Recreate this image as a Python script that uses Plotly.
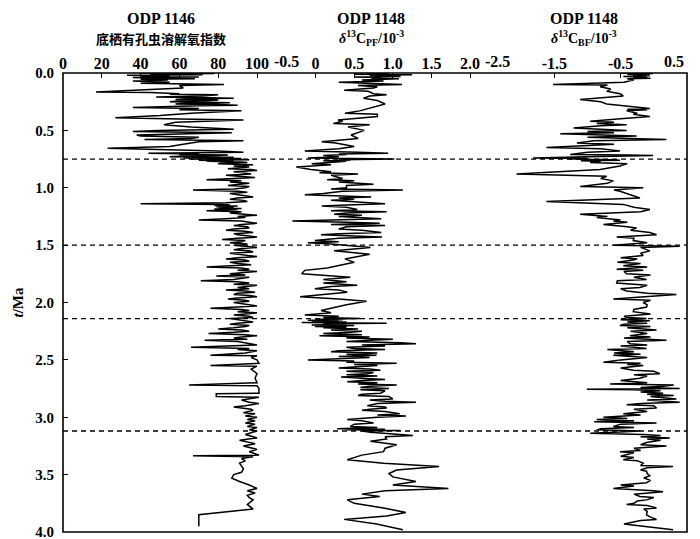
import plotly.graph_objects as go

# ---------------- data ----------------
# ODP 1146 benthic foraminifera dissolution index: (age Ma, index)
odp1146 = [
    (0.00, 40), (0.005, 78), (0.01, 45), (0.015, 72), (0.02, 33), (0.025, 55), (0.03, 40),
    (0.035, 70), (0.04, 36), (0.045, 60), (0.05, 68), (0.055, 40), (0.06, 54), (0.065, 45),
    (0.07, 36), (0.08, 55), (0.09, 40), (0.10, 83), (0.11, 60), (0.13, 62), (0.165, 17),
    (0.17, 45), (0.18, 60), (0.185, 55), (0.19, 80), (0.20, 72), (0.205, 58), (0.21, 48),
    (0.215, 75), (0.22, 88), (0.225, 65), (0.23, 58), (0.235, 80), (0.24, 75), (0.245, 60),
    (0.25, 55), (0.255, 75), (0.26, 86), (0.265, 62), (0.27, 58), (0.275, 80), (0.28, 90),
    (0.285, 70), (0.29, 62), (0.30, 36), (0.31, 70), (0.32, 60), (0.33, 92), (0.35, 66),
    (0.37, 50), (0.39, 27), (0.40, 60), (0.41, 93), (0.43, 58), (0.45, 52), (0.47, 66),
    (0.49, 88), (0.50, 49), (0.51, 36), (0.52, 87), (0.53, 55), (0.54, 38), (0.55, 40),
    (0.56, 70), (0.57, 66), (0.58, 42), (0.59, 93), (0.60, 70), (0.62, 62), (0.64, 55),
    (0.655, 23), (0.67, 68), (0.68, 80), (0.69, 93), (0.70, 44), (0.705, 70), (0.71, 60),
    (0.715, 85), (0.72, 80), (0.725, 60), (0.73, 55), (0.735, 88), (0.74, 62), (0.745, 92),
    (0.75, 66), (0.755, 96), (0.76, 70), (0.765, 88), (0.77, 74), (0.775, 92), (0.78, 95),
    (0.785, 82), (0.79, 80),
    (0.80, 98), (0.81, 88), (0.82, 96), (0.83, 90), (0.835, 85), (0.84, 97), (0.85, 100),
    (0.86, 88), (0.87, 94), (0.88, 97), (0.89, 84), (0.90, 92), (0.91, 99), (0.92, 88),
    (0.93, 74), (0.94, 92), (0.95, 86), (0.96, 96), (0.97, 90), (0.98, 85), (0.99, 96),
    (1.00, 94), (1.01, 88), (1.02, 67), (1.03, 90), (1.04, 95), (1.05, 86), (1.06, 90),
    (1.07, 96), (1.08, 98), (1.09, 90), (1.10, 86), (1.11, 93), (1.12, 95), (1.13, 84),
    (1.14, 40), (1.145, 82), (1.15, 86), (1.155, 78), (1.16, 90), (1.165, 79), (1.17, 88),
    (1.175, 80), (1.18, 92), (1.185, 78), (1.19, 90), (1.20, 74), (1.21, 92), (1.22, 86),
    (1.23, 94), (1.24, 100), (1.25, 90), (1.26, 94), (1.27, 84), (1.28, 70), (1.29, 92),
    (1.30, 97), (1.31, 100), (1.32, 92), (1.33, 88), (1.34, 95), (1.35, 96), (1.36, 88),
    (1.37, 84), (1.38, 94), (1.39, 98), (1.40, 88), (1.41, 90), (1.42, 96), (1.43, 100),
    (1.44, 90), (1.45, 82), (1.46, 94), (1.47, 92), (1.48, 86), (1.49, 95), (1.50, 88),
    (1.51, 96), (1.52, 100), (1.53, 92), (1.54, 88), (1.55, 96), (1.56, 98), (1.57, 86),
    (1.58, 90), (1.59, 96), (1.60, 100), (1.61, 90), (1.62, 84), (1.63, 94), (1.64, 96),
    (1.65, 86), (1.66, 90), (1.67, 97), (1.68, 88), (1.69, 74), (1.70, 92), (1.71, 96),
    (1.72, 90), (1.73, 100), (1.74, 92), (1.75, 86), (1.76, 94), (1.77, 79), (1.78, 96),
    (1.79, 92), (1.80, 88), (1.81, 71), (1.82, 90), (1.83, 96), (1.84, 88), (1.85, 100),
    (1.86, 94), (1.87, 90), (1.88, 96), (1.89, 84), (1.90, 94), (1.91, 99), (1.92, 90),
    (1.93, 88), (1.94, 96), (1.95, 100), (1.96, 90), (1.97, 85), (1.98, 94), (1.99, 96),
    (2.00, 88), (2.01, 92), (2.02, 98), (2.03, 100), (2.04, 90), (2.05, 76), (2.06, 92),
    (2.07, 96), (2.08, 90), (2.09, 100), (2.10, 94), (2.11, 88), (2.12, 96), (2.13, 98),
    (2.14, 86), (2.15, 90),
    (2.16, 96), (2.17, 98), (2.18, 90), (2.19, 86), (2.20, 96), (2.21, 94), (2.22, 88),
    (2.23, 80), (2.24, 92), (2.25, 96), (2.26, 88), (2.27, 75), (2.28, 94), (2.29, 100),
    (2.30, 92), (2.31, 88), (2.32, 95), (2.33, 73), (2.34, 90), (2.35, 94), (2.37, 100),
    (2.39, 66), (2.40, 96), (2.41, 90), (2.42, 100), (2.44, 94), (2.46, 76), (2.465, 100),
    (2.48, 97), (2.50, 100), (2.53, 101), (2.55, 76), (2.555, 100), (2.58, 97), (2.62, 100),
    (2.66, 99), (2.70, 100), (2.72, 65), (2.725, 100), (2.75, 101), (2.79, 101), (2.795, 79),
    (2.82, 79), (2.825, 101), (2.85, 92), (2.87, 96), (2.88, 101), (2.90, 94), (2.91, 88),
    (2.93, 97), (2.94, 98), (2.96, 93), (2.97, 99), (2.99, 94), (3.00, 100), (3.02, 95),
    (3.03, 99), (3.05, 94), (3.06, 99), (3.08, 95), (3.09, 100), (3.11, 96), (3.12, 100),
    (3.15, 94), (3.18, 100), (3.20, 91), (3.23, 99), (3.25, 93), (3.28, 100), (3.30, 96),
    (3.33, 101), (3.335, 67), (3.345, 98), (3.36, 92), (3.38, 94), (3.40, 91), (3.42, 92),
    (3.45, 93), (3.48, 92), (3.50, 88), (3.53, 87), (3.56, 91), (3.59, 96), (3.62, 100),
    (3.64, 95), (3.66, 99), (3.68, 95), (3.70, 96), (3.72, 98), (3.76, 95), (3.80, 98),
    (3.85, 70), (3.95, 70),
]

# ODP 1148 planktonic foraminifera d13C (per mil): (age Ma, value)
odp1148_pf = [
    (0.00, 0.66), (0.005, 0.95), (0.01, 0.50), (0.015, 1.25), (0.02, 0.70), (0.025, 0.90),
    (0.03, 1.10), (0.035, 0.50), (0.04, 0.85), (0.045, 0.72), (0.05, 1.08), (0.06, 0.60),
    (0.07, 0.88), (0.08, 0.30), (0.09, 0.70), (0.10, 1.12), (0.11, 0.55), (0.12, 0.80),
    (0.13, 0.75), (0.15, 0.37), (0.16, 0.68), (0.18, 0.75), (0.19, 0.92), (0.20, 0.70),
    (0.22, 0.62), (0.24, 0.80), (0.27, 0.90), (0.30, 0.75), (0.33, 0.57), (0.35, 0.38),
    (0.36, 0.80), (0.38, 0.80), (0.41, 0.29), (0.42, 0.35), (0.44, 0.23), (0.45, 0.70),
    (0.47, 0.42), (0.50, 0.63), (0.54, 0.46), (0.57, 0.55), (0.60, 0.08), (0.61, 0.26),
    (0.64, 0.50), (0.66, 0.30), (0.68, -0.14), (0.69, 0.55), (0.70, 0.94), (0.705, 0.30),
    (0.71, 0.40), (0.72, 0.10), (0.73, 0.30), (0.74, -0.10), (0.745, 0.60), (0.75, 1.02),
    (0.755, 0.30), (0.76, 0.45), (0.765, 0.10), (0.77, 0.40), (0.79, -0.05), (0.80, 0.20),
    (0.82, -0.25), (0.84, -0.06), (0.86, 0.20), (0.87, 0.05), (0.88, 0.55), (0.89, 0.20),
    (0.90, 0.24), (0.92, 0.35), (0.93, 0.15), (0.94, 0.50), (0.95, 0.30), (0.97, 0.75),
    (0.98, 0.40), (1.00, 0.40), (1.01, 0.20), (1.02, 1.13), (1.03, 0.35), (1.05, 0.10),
    (1.06, -0.14), (1.07, 0.40), (1.08, 0.72), (1.09, 0.30), (1.10, 0.50), (1.11, 0.20),
    (1.12, 0.40), (1.13, 0.70), (1.14, 0.90), (1.15, 0.40), (1.16, 0.08), (1.17, 0.40),
    (1.19, 0.54), (1.20, 0.20), (1.21, 0.92), (1.22, 0.40), (1.23, 0.24), (1.24, 0.60),
    (1.25, 0.30), (1.27, 0.85), (1.28, 0.30), (1.29, -0.30), (1.30, 0.40), (1.31, 0.83),
    (1.32, 0.20), (1.33, 0.90), (1.34, 0.40), (1.36, 0.30), (1.37, 0.60), (1.39, 0.85),
    (1.40, 0.30), (1.41, 0.07), (1.42, 0.50), (1.43, 0.86), (1.44, 0.30), (1.46, -0.01),
    (1.47, 0.30), (1.48, -0.10), (1.49, 0.20), (1.50, 0.37), (1.52, 0.71), (1.55, 0.24),
    (1.58, 0.70), (1.62, 0.38), (1.65, 0.50), (1.70, 0.15), (1.72, -0.14), (1.75, -0.18),
    (1.78, 0.45), (1.80, 0.10), (1.82, 0.40), (1.83, 0.10), (1.85, 0.54), (1.86, 0.20),
    (1.88, -0.01), (1.89, 0.30), (1.91, 0.41), (1.93, 0.10), (1.95, -0.20), (1.97, 0.30),
    (1.99, 0.66), (2.02, 0.40), (2.04, 0.28), (2.07, 0.07), (2.09, 0.20), (2.11, -0.14),
    (2.12, 0.30), (2.13, 0.10), (2.14, 0.58), (2.145, 0.00), (2.15, 0.35), (2.155, -0.10),
    (2.16, 0.30), (2.165, -0.05), (2.17, 0.40), (2.175, -0.18), (2.18, 0.92), (2.185, 0.10),
    (2.19, 0.40), (2.195, -0.05), (2.20, 0.50), (2.21, -0.01), (2.215, 0.40), (2.22, 0.10),
    (2.23, 0.55), (2.24, 0.20), (2.25, 0.60), (2.26, 0.45), (2.27, 0.10), (2.28, 0.60),
    (2.29, 0.05), (2.30, 0.70), (2.31, 0.40), (2.32, 1.00), (2.33, 0.71), (2.34, 0.40),
    (2.35, 1.10), (2.36, 1.30), (2.37, 0.60), (2.38, 0.90), (2.39, 0.40), (2.40, 0.50),
    (2.41, 0.90), (2.42, 0.30), (2.43, 0.20), (2.44, 0.80), (2.45, 0.40), (2.46, 0.79),
    (2.47, 0.30), (2.48, 0.70), (2.50, -0.10), (2.51, 0.50), (2.52, 0.40), (2.53, 1.05),
    (2.54, 0.50), (2.55, 0.80), (2.56, 0.54), (2.57, 0.30), (2.58, 0.70), (2.59, 0.84),
    (2.60, 0.40), (2.61, 0.75), (2.62, 0.67), (2.63, 0.40), (2.64, 0.80), (2.65, 0.33),
    (2.66, 0.60), (2.67, 0.90), (2.68, 0.60), (2.69, 0.41), (2.70, 0.80), (2.71, 0.55),
    (2.72, 1.05), (2.73, 0.70), (2.74, 0.58), (2.75, 0.95), (2.76, 0.58), (2.77, 0.90),
    (2.79, 0.84), (2.80, 0.60), (2.81, 0.55), (2.82, 0.95), (2.84, 1.00), (2.85, 0.70),
    (2.86, 0.90), (2.87, 1.30), (2.88, 0.80), (2.90, 0.67), (2.91, 0.90), (2.92, 0.92),
    (2.93, 0.70), (2.94, 0.60), (2.95, 0.90), (2.97, 1.09), (2.98, 0.80), (2.99, 1.17),
    (3.00, 0.80), (3.02, 0.41), (3.03, 0.60), (3.05, 0.75), (3.06, 0.50), (3.08, 0.45),
    (3.09, 0.80), (3.10, 0.28), (3.105, 0.90), (3.11, 0.40), (3.115, 1.10), (3.12, 0.60),
    (3.13, 0.71), (3.14, 0.90), (3.16, 1.26), (3.17, 0.90), (3.19, 0.92), (3.21, 0.71),
    (3.24, 1.05), (3.27, 0.90), (3.30, 0.88), (3.33, 0.60), (3.37, 0.41), (3.40, 0.88),
    (3.43, 1.60), (3.46, 1.05), (3.49, 0.95), (3.52, 1.00), (3.56, 1.30), (3.59, 1.00),
    (3.62, 1.72), (3.64, 0.90), (3.65, 0.79), (3.67, 0.60), (3.69, 0.83), (3.72, 0.41),
    (3.75, 0.50), (3.79, 0.88), (3.83, 1.17), (3.86, 0.92), (3.89, 0.37), (3.93, 0.79),
    (3.98, 1.13),
]

# ODP 1148 benthic foraminifera d13C (per mil): (age Ma, value)
odp1148_bf = [
    (0.000, -0.51), (0.005, -0.01), (0.01, -0.40), (0.015, -0.06), (0.02, -0.31), (0.025, -0.06),
    (0.03, -0.46), (0.035, -0.10), (0.04, -0.31), (0.045, -0.05), (0.05, -0.40), (0.06, -0.30),
    (0.08, -0.45), (0.10, -1.52), (0.105, -0.70), (0.12, -0.81), (0.14, -0.65), (0.16, -0.71),
    (0.18, -0.51), (0.20, -0.46), (0.23, -1.11), (0.25, -0.80), (0.27, -0.71), (0.29, -0.41),
    (0.31, -0.06), (0.315, -0.40), (0.32, -0.10), (0.33, -0.41), (0.35, -0.25), (0.36, -0.31),
    (0.38, -0.06), (0.40, -0.55), (0.42, -0.96), (0.43, -0.60), (0.44, -0.86), (0.45, -0.41),
    (0.46, -0.80), (0.48, -1.21), (0.49, -0.70), (0.50, -0.41), (0.51, -1.00), (0.52, -0.60),
    (0.53, -1.41), (0.54, -0.80), (0.55, -0.26), (0.56, -1.00), (0.57, -0.50), (0.58, 0.19),
    (0.59, -0.90), (0.61, -1.16), (0.62, -0.60), (0.63, -1.00), (0.65, -1.62), (0.66, -0.80),
    (0.68, -0.51), (0.69, -1.00), (0.71, -1.26), (0.715, -0.40), (0.72, -0.01), (0.73, -1.00),
    (0.74, -1.82), (0.745, -1.00), (0.75, -1.30), (0.755, -0.60), (0.76, -0.51), (0.765, -1.10),
    (0.77, -0.80), (0.78, -0.96), (0.79, -0.40), (0.81, -0.51), (0.84, -0.81), (0.88, -2.07),
    (0.90, -0.71), (0.92, -0.80), (0.94, -0.61), (0.96, -0.70), (0.99, -1.11), (1.00, -0.16),
    (1.02, -0.60), (1.03, -0.51), (1.06, -0.36), (1.09, -0.21), (1.12, -1.62), (1.145, -0.46),
    (1.17, -0.30), (1.19, -0.06), (1.21, -0.20), (1.23, -1.11), (1.25, -0.70), (1.26, -0.86),
    (1.28, -0.50), (1.29, -0.61), (1.30, -0.40), (1.32, -0.76), (1.34, -0.40), (1.35, -0.26),
    (1.37, -0.35), (1.39, -0.06), (1.41, 0.04), (1.43, -0.56), (1.44, -0.30), (1.46, -0.31),
    (1.48, -0.10), (1.50, -0.61), (1.51, 0.39), (1.52, -0.20), (1.55, -0.06), (1.57, -0.20),
    (1.59, -0.16), (1.61, -0.50), (1.62, -0.25), (1.63, -0.31), (1.65, -0.55), (1.66, -0.20),
    (1.68, -0.46), (1.69, -0.10), (1.71, -0.56), (1.72, -0.16), (1.73, -0.45), (1.75, -0.41),
    (1.76, -0.05), (1.78, -0.30), (1.80, -0.11), (1.81, -0.55), (1.83, -0.56), (1.85, -0.10),
    (1.87, -0.21), (1.88, -0.50), (1.90, -0.41), (1.92, -0.10), (1.93, 0.34), (1.95, -0.20),
    (1.97, -0.61), (1.98, -0.05), (2.00, -0.16), (2.02, -0.10), (2.04, -0.11), (2.06, -0.30),
    (2.08, -0.31), (2.10, -0.05), (2.12, -0.45), (2.13, -0.41), (2.14, -0.11), (2.15, -0.50),
    (2.16, -0.06), (2.17, -0.40), (2.18, -0.10), (2.19, -0.45), (2.20, -0.51), (2.21, -0.05),
    (2.22, -0.40), (2.24, 0.04), (2.25, -0.35), (2.27, -0.10), (2.29, -0.36), (2.30, -0.05),
    (2.31, -0.45), (2.33, 0.19), (2.34, -0.40), (2.36, -0.36), (2.37, -0.10), (2.38, -0.50),
    (2.40, -0.11), (2.41, -0.70), (2.43, -0.30), (2.44, -0.60), (2.45, -0.20), (2.46, -0.61),
    (2.47, -0.41), (2.48, -0.10), (2.50, -0.50), (2.52, -0.76), (2.53, -0.20), (2.54, -0.40),
    (2.55, -0.16), (2.57, -0.50), (2.59, -0.31), (2.60, 0.00), (2.62, 0.09), (2.63, -0.30),
    (2.64, -0.10), (2.66, -0.21), (2.68, -0.50), (2.70, -0.10), (2.71, -0.66), (2.72, 0.30),
    (2.73, 0.14), (2.74, -0.20), (2.75, 0.39), (2.755, -1.01), (2.76, -0.30), (2.77, 0.10),
    (2.78, -0.20), (2.79, 0.14), (2.80, -0.10), (2.81, 0.30), (2.82, -0.05), (2.84, 0.34),
    (2.85, -0.10), (2.87, 0.39), (2.88, -0.20), (2.89, -0.41), (2.90, 0.00), (2.92, 0.04),
    (2.93, -0.30), (2.95, -0.10), (2.97, -0.46), (2.98, -0.20), (3.00, -0.76), (3.01, -0.40),
    (3.02, -0.86), (3.03, -0.30), (3.04, -0.90), (3.05, 0.04), (3.06, -0.50), (3.08, -0.61),
    (3.09, -0.30), (3.10, -0.80), (3.11, -0.86), (3.12, -0.20), (3.13, -0.60), (3.14, -0.96),
    (3.15, -0.16), (3.16, 0.10), (3.17, -0.20), (3.18, 0.24), (3.19, -0.10), (3.20, 0.10),
    (3.22, -0.11), (3.24, -0.20), (3.25, 0.19), (3.27, -0.30), (3.29, -0.20), (3.30, -0.51),
    (3.31, -0.30), (3.33, -0.41), (3.34, -0.50), (3.35, -0.30), (3.37, -0.46), (3.38, -0.25),
    (3.40, -0.16), (3.42, -0.20), (3.43, 0.29), (3.44, -0.10), (3.46, -0.20), (3.47, -0.11),
    (3.49, -0.10), (3.51, -0.06), (3.53, -0.15), (3.55, -0.05), (3.57, -0.11), (3.59, -0.50),
    (3.60, -0.30), (3.62, -0.61), (3.63, -0.20), (3.64, 0.00), (3.65, 0.14), (3.66, -0.10),
    (3.67, -0.30), (3.69, -0.21), (3.70, 0.00), (3.72, -0.11), (3.73, -0.25), (3.75, -0.30),
    (3.76, -0.41), (3.77, -0.10), (3.79, 0.04), (3.80, -0.15), (3.82, -0.10), (3.85, -0.11),
    (3.87, -0.05), (3.89, 0.04), (3.90, -0.20), (3.92, -0.36), (3.93, -0.45), (3.95, -0.16),
    (3.97, 0.10), (3.98, 0.29),
]

# boundaries drawn as dashed lines (Ma)
boundary_ages = [0.75, 1.50, 2.14, 3.12]

# tick values / labels
ticks_1146 = [0, 20, 40, 60, 80, 100]
ticktext_1146 = ["0", "20", "40", "60", "80", "100"]
ticks_pf = [-0.5, 0, 0.5, 1.0, 1.5, 2.0]
ticktext_pf = ["", "0", "0.5", "1.0", "1.5", "2.0"]
ticks_bf = [-2.5, -1.5, -0.5, 0.5]
ticktext_bf = ["", "-1.5", "-0.5", ""]
# edge labels of the joined axes (axis, value, text, anchor)
edge_labels = [("x2", -0.5, "-0.5", "left"), ("x3", -2.5, "-2.5", "left"),
               ("x3", 0.5, "0.5", "right")]
age_ticks = [0, 0.5, 1.0, 1.5, 2.0, 2.5, 3.0, 3.5, 4.0]

# ---------------- figure ----------------
# the page body has an 8px margin, so the figure is laid out 8px up/left of the window
SERIF = "Liberation Serif"
CJK = "Noto Sans CJK SC"
line = dict(color="black", width=1.5)

fig = go.Figure()
for series, xa in [(odp1146, "x"), (odp1148_pf, "x2"), (odp1148_bf, "x3")]:
    fig.add_trace(go.Scatter(x=[p[1] for p in series], y=[p[0] for p in series],
                             mode="lines", line=line, xaxis=xa, yaxis="y",
                             showlegend=False, hoverinfo="skip"))

for a in boundary_ages:
    fig.add_shape(type="line", xref="paper", yref="y", x0=0, x1=1, y0=a, y1=a,
                  line=dict(color="black", width=1.3, dash="5px,4px"))

fig.add_shape(type="rect", xref="paper", yref="paper", x0=0, x1=1, y0=0, y1=1,
              line=dict(color="black", width=1.6))

tickfont = dict(family=SERIF, size=16, color="black", weight="bold")
ytickfont = dict(family=SERIF, size=15, color="black", weight="bold")
xcommon = dict(side="top", anchor="y", ticks="inside", ticklen=5, tickwidth=1.2,
               tickcolor="black", showgrid=False, zeroline=False, showline=False,
               tickfont=tickfont, tickmode="array", fixedrange=True, automargin=False)

d1 = 214 / 624
d2 = 425 / 624
fig.update_layout(
    width=700, height=539,
    margin=dict(l=55, r=21, t=65, b=15),
    paper_bgcolor="white", plot_bgcolor="white",
    xaxis=dict(domain=[0, d1], range=[0, 110.3], tickvals=ticks_1146,
               ticktext=ticktext_1146, **xcommon),
    xaxis2=dict(domain=[d1, d2], range=[-0.5, 2.233], tickvals=ticks_pf,
                ticktext=ticktext_pf, **xcommon),
    xaxis3=dict(domain=[d2, 1], range=[-2.5, 0.5], tickvals=ticks_bf,
                ticktext=ticktext_bf, **xcommon),
    yaxis=dict(range=[4, 0], anchor="x", ticks="inside", ticklen=5, tickwidth=1.2,
               tickcolor="black", tickvals=age_ticks, tickformat=".1f", showgrid=False,
               zeroline=False, showline=False, tickfont=ytickfont, ticklabelstandoff=8,
               ticklabeloverflow="allow", automargin=False, fixedrange=True),
)

for xa, val, txt, anc in edge_labels:
    fig.add_annotation(x=val, xref=xa, y=1, yref="paper", text=txt, showarrow=False,
                       xanchor=anc, yanchor="bottom", yshift=1,
                       xshift=-5 if anc == "left" else -1, font=tickfont)

fig.add_annotation(x=(17 - 63) / 624, y=0.5 - 0.0, xref="paper", yref="paper",
                   text="<i>t</i>/Ma", textangle=-90, showarrow=False,
                   xanchor="center", yanchor="middle",
                   font=dict(family=SERIF, size=15, color="black", weight="bold"))

titles = [
    (161, "ODP 1146", "底栖有孔虫溶解氧指数", CJK),
    (371, "ODP 1148", "<i>δ</i><sup>13</sup>C<sub>PF</sub>/10<sup>-3</sup>", SERIF),
    (584, "ODP 1148", "<i>δ</i><sup>13</sup>C<sub>BF</sub>/10<sup>-3</sup>", SERIF),
]
for xpx, t1, t2, f2 in titles:
    xp = (xpx - 63) / 624
    fig.add_annotation(x=xp, y=1, xref="paper", yref="paper", yshift=55, text=t1,
                       showarrow=False, xanchor="center", yanchor="middle",
                       font=dict(family=SERIF, size=16, color="black", weight="bold"))
    fig.add_annotation(x=xp, y=1, xref="paper", yref="paper", yshift=35, text=t2,
                       showarrow=False, xanchor="center", yanchor="middle",
                       font=dict(family=f2, size=14 if f2 == SERIF else 13, color="black",
                                 weight="bold"))

fig.write_html("out.html")
